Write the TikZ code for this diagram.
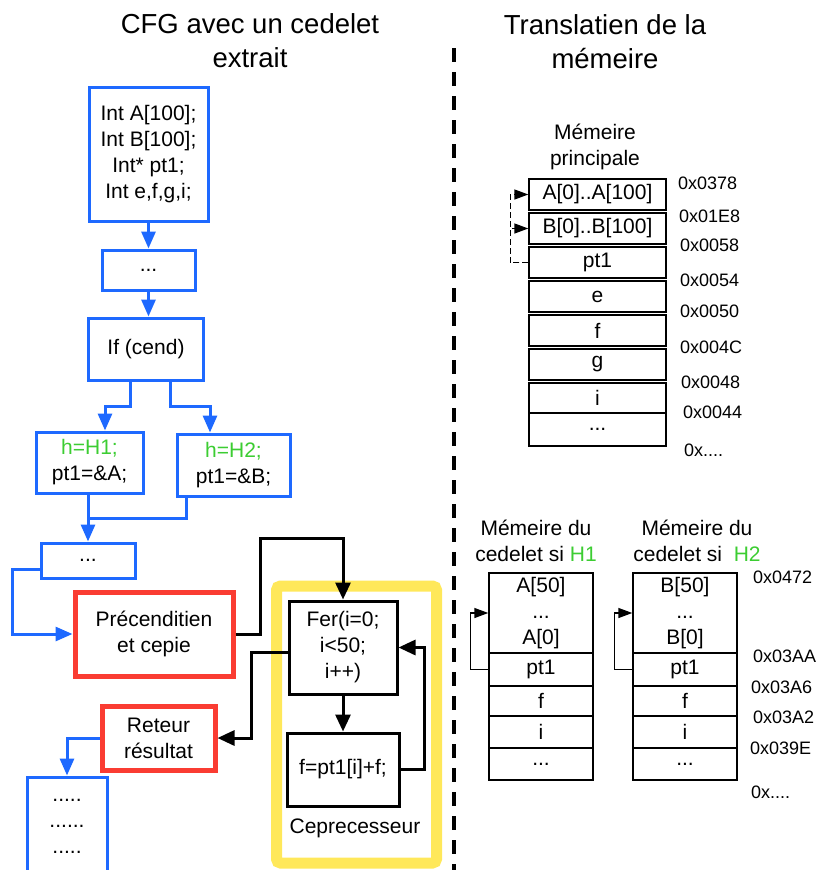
\documentclass[tikz,border=0pt]{standalone}
\usepackage{fontspec}
\setmainfont{Liberation Sans}
\usetikzlibrary{arrows.meta}
\definecolor{cfgblue}{RGB}{30,105,255}
\definecolor{cfgred}{RGB}{250,60,50}
\definecolor{cpuyellow}{RGB}{255,232,90}
\definecolor{hgreen}{RGB}{60,205,50}

\begin{document}
\begin{tikzpicture}[x=1pt,y=-1pt,
  every node/.style={font=\fontsize{21}{26}\selectfont, inner sep=0pt, align=center},
  ttl/.style={font=\fontsize{27.5}{34}\selectfont},
  bbox/.style={draw=cfgblue, line width=3pt, fill=white},
  rbox/.style={draw=cfgred, line width=5pt},
  kbox/.style={draw=black, line width=3pt},
  bline/.style={draw=cfgblue, line width=3pt},
  barrow/.style={bline, -{Triangle[length=17pt,width=14pt]}},
  karrow/.style={draw=black, line width=3pt, -{Triangle[length=17pt,width=15pt]}},
  cell/.style={draw=black, line width=1.4pt, minimum width=137pt, minimum height=31pt},
  subcell/.style={draw=black, line width=1.4pt, minimum width=104pt},
  addr/.style={anchor=west, font=\fontsize{18}{22}\selectfont},
  marrow/.style={line width=1.4pt, -{Triangle[length=14pt,width=10pt]}},
]
\clip (0,0) rectangle (819,870);

% ---------- titles and separator ----------
\node[ttl] (ttlcfg) at (250,41) {CFG avec un cedelet\\extrait};
\node[ttl] (ttlmem) at (605,42) {Translatien de la\\mémeire};
\coordinate (septop) at (454,48);
\coordinate (sepbot) at (454,875);
\draw[line width=4pt, dash pattern=on 14pt off 10pt] (septop) -- (sepbot);

% ---------- control flow graph ----------
\node[bbox, minimum width=119pt, minimum height=134pt] (decl) at (148.5,154)
  {Int A[100];\\Int B[100];\\Int* pt1;\\Int e,f,g,i;};
\node[bbox, minimum width=93pt, minimum height=40pt] (dotsa) at (148.5,270) {...};
\node[bbox, minimum width=115pt, minimum height=62pt] (ifc) at (146,349) {If (cend)};
\node[bbox, minimum width=107pt, minimum height=61pt] (h1) at (89.5,462.5)
  {\textcolor{hgreen}{h=H1;}\\pt1=\&A;};
\node[bbox, minimum width=113pt, minimum height=62pt] (h2) at (233.5,465)
  {\textcolor{hgreen}{h=H2;}\\pt1=\&B;};
\node[bbox, minimum width=94pt, minimum height=35pt] (dotsb) at (88,560.5) {...};
\node[rbox, minimum width=158pt, minimum height=84pt] (pre) at (154,634) {Précenditien\\et cepie};
\node[rbox, minimum width=113pt, minimum height=64pt] (ret) at (158.5,738) {Reteur\\résultat};
\node[bbox, minimum width=80pt, minimum height=98pt] (cont) at (67,826) {.....\\......\\.....};

% coprocessor frame
\node[draw=cpuyellow, line width=11pt, rounded corners=4pt,
      minimum width=160pt, minimum height=277pt] (cpu) at (356.5,724.5) {};
\node (cpulbl) at (355,828) {Ceprecesseur};
\node[kbox, minimum width=108pt, minimum height=93pt] (fer) at (343,647.5) {Fer(i=0;\\i<50;\\i++)};
\node[kbox, minimum width=112pt, minimum height=73pt] (fsum) at (343,769.5) {f=pt1[i]+f;};

\draw[barrow] (decl.south) -- (dotsa.north);
\draw[barrow] (dotsa.south) -- (dotsa.south |- ifc.north);
\draw[barrow] ([xshift=-16pt]ifc.south) -- ++(0,25) -| ([xshift=15.5pt]h1.north);
\draw[barrow] ([xshift=24pt]ifc.south) -- ++(0,25) -| ([xshift=-23.5pt]h2.north);
\coordinate (merge) at (88,518);
\draw[bline] ([xshift=-47.5pt]h2.south) |- (merge);
\draw[barrow] (h1.south -| dotsb.north) -- (dotsb.north);
\draw[barrow] ([yshift=-8.5pt]dotsb.west) -- ++(-27,0) |- (pre.west);

\coordinate (cupper) at (260,538);
\draw[karrow] (pre.east) -| (cupper) -| (fer.north);
\draw[karrow] (fer.south) -- (fsum.north);
\draw[karrow] (fsum.east) -- ++(24,0) |- (fer.east);
\draw[karrow] ([yshift=-4.5pt]fer.west) -- ++(-36,0) |- (ret.east);
\draw[barrow] (ret.west) -| (cont.north);

% ---------- main memory ----------
\node (mmtitle) at (595,147) {Mémeire\\principale};
\node[cell] (mA) at (597.5,194.5) {A[0]..A[100]};
\node[cell] (mB) at (597.5,228.5) {B[0]..B[100]};
\node[cell] (mp) at (597.5,262.5) {pt1};
\node[cell] (me) at (597.5,296.5) {e};
\node[cell] (mf) at (597.5,330.5) {f};
\node[cell] (mg) at (597.5,364.5) {g};
\node[cell, minimum height=30pt] (mi) at (597.5,398) {i};
\node[cell, minimum height=33pt] (md) at (597.5,429.5) {...};

\draw[marrow, dash pattern=on 6pt off 3pt] (mp.west) -- ++(-18,0) |- (mA.west);
\draw[marrow, dash pattern=on 6pt off 3pt] (mp.west) -- ++(-18,0) |- (mB.west);

\node[addr] (a1) at (678,183) {0x0378};
\node[addr] (a2) at (679,216) {0x01E8};
\node[addr] (a3) at (680,245) {0x0058};
\node[addr] (a4) at (680,280) {0x0054};
\node[addr] (a5) at (680,311) {0x0050};
\node[addr] (a6) at (680,347) {0x004C};
\node[addr] (a7) at (681,382) {0x0048};
\node[addr] (a8) at (683,412) {0x0044};
\node[addr] (a9) at (684,450) {0x....};

% ---------- codelet memories ----------
\node (s1title) at (536,540.5) {Mémeire du\\cedelet si \textcolor{hgreen}{H1}};
\node (s2title) at (697,540.5) {Mémeire du\\cedelet si\ \ \textcolor{hgreen}{H2}};

\node[subcell, minimum height=80pt] (aarr) at (541,613) {A[50]\\...\\A[0]};
\node[subcell, minimum height=33pt] (ap) at (541,669.5) {pt1};
\node[subcell, minimum height=30pt] (af) at (541,701) {f};
\node[subcell, minimum height=32pt] (ai) at (541,732) {i};
\node[subcell, minimum height=32pt] (ad) at (541,764) {...};

\node[subcell, minimum height=80pt] (barr) at (685,613) {B[50]\\...\\B[0]};
\node[subcell, minimum height=33pt] (bp) at (685,669.5) {pt1};
\node[subcell, minimum height=30pt] (bf) at (685,701) {f};
\node[subcell, minimum height=32pt] (bi) at (685,732) {i};
\node[subcell, minimum height=32pt] (bd) at (685,764) {...};

\draw[marrow] (ap.west) -- ++(-18,0) |- (aarr.west);
\draw[marrow] (bp.west) -- ++(-18,0) |- (barr.west);

\node[addr] (c1) at (753,577) {0x0472};
\node[addr] (c2) at (753,656) {0x03AA};
\node[addr] (c3) at (751,687) {0x03A6};
\node[addr] (c4) at (753,717) {0x03A2};
\node[addr] (c5) at (750,748) {0x039E};
\node[addr] (c6) at (751,792) {0x....};
\end{tikzpicture}
\end{document}
